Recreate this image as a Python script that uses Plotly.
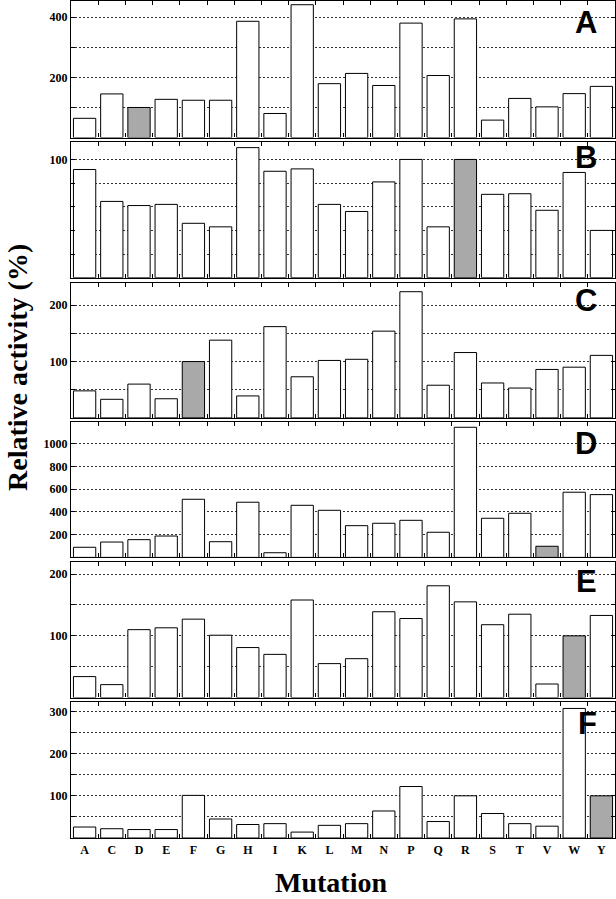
import plotly.graph_objects as go

mutations = ["A", "C", "D", "E", "F", "G", "H", "I", "K", "L",
             "M", "N", "P", "Q", "R", "S", "T", "V", "W", "Y"]

panel_a = [64, 145, 100, 127, 124, 124, 386, 80, 441, 179,
           213, 173, 380, 206, 394, 58, 130, 102, 146, 170]
panel_b = [91.5, 64.5, 61, 62, 46, 43, 110, 90, 92, 62,
           56, 81, 100, 43, 100, 70.5, 71, 57, 89, 40]
panel_c = [48, 33, 60, 34, 100, 138, 39, 162, 73, 102,
           104, 154, 224, 58, 116, 62, 53, 86, 90, 111]
panel_d = [89, 135, 156, 188, 511, 138, 485, 41, 458, 414,
           279, 300, 326, 221, 1144, 344, 388, 98, 573, 552]
panel_e = [34, 21, 110, 113, 127, 101, 81, 70, 158, 55,
           63, 139, 128, 181, 155, 118, 135, 22, 100, 133]
panel_f = [26, 22, 20, 20, 101, 45, 32, 34, 14, 30,
           34, 64, 122, 39, 100, 58, 34, 28, 307, 100]

panels = [panel_a, panel_b, panel_c, panel_d, panel_e, panel_f]
reference_residue = ["D", "R", "F", "V", "W", "Y"]
panel_letters = ["A", "B", "C", "D", "E", "F"]
y_max = [455, 115, 240, 1193, 220, 323]
y_tick_values = [
    [100, 200, 300, 400],
    [20, 40, 60, 80, 100],
    [50, 100, 150, 200],
    [200, 400, 600, 800, 1000],
    [50, 100, 150, 200],
    [50, 100, 150, 200, 250, 300],
]
y_tick_labels = [
    ["", "200", "", "400"],
    ["", "", "", "", "100"],
    ["", "100", "", "200"],
    ["200", "400", "600", "800", "1000"],
    ["", "100", "", "200"],
    ["", "100", "", "200", "", "300"],
]

# layout geometry (pixels from top of plot area)
PLOT_H = 838.0
panel_top_px = [0.5, 141.7, 282.7, 421.7, 561.7, 701.7]
panel_bot_px = [137.6, 277.7, 417.9, 557.4, 697.6, 838.0]
letter_center_px = [23, 157, 300, 443, 581, 723]

WHITE = "#ffffff"
GRAY = "#a9a9a9"
serif = "Liberation Serif"

fig = go.Figure()
layout = {}
annotations = []

for i, vals in enumerate(panels):
    n = i + 1
    xa = "x" if n == 1 else f"x{n}"
    ya = "y" if n == 1 else f"y{n}"
    colors = [GRAY if m == reference_residue[i] else WHITE for m in mutations]
    fig.add_trace(go.Bar(
        x=mutations, y=vals, xaxis=xa, yaxis=ya,
        marker=dict(color=colors, line=dict(color="black", width=1)),
        showlegend=False, hoverinfo="x+y",
    ))
    d0 = max(0.0, 1 - panel_bot_px[i] / PLOT_H)
    d1 = min(1.0, 1 - panel_top_px[i] / PLOT_H)
    xkey = "xaxis" if n == 1 else f"xaxis{n}"
    ykey = "yaxis" if n == 1 else f"yaxis{n}"
    layout[xkey] = dict(
        domain=[0, 1], anchor=ya, type="category",
        categoryorder="array", categoryarray=mutations,
        showline=True, linecolor="black", linewidth=1.3, mirror="ticks",
        ticks="inside", ticklen=4, tickcolor="black", tickson="boundaries",
        showgrid=False, zeroline=False,
        showticklabels=(n == 6),
        tickfont=dict(family=serif, size=12, color="black", weight="bold"),
        matches=None if n == 1 else "x",
    )
    layout[ykey] = dict(
        domain=[d0, d1], anchor=xa, range=[0, y_max[i]],
        tickvals=y_tick_values[i], ticktext=y_tick_labels[i],
        showline=True, linecolor="black", linewidth=1.3, mirror="ticks",
        ticks="inside", ticklen=4, tickcolor="black",
        showgrid=True, gridcolor="#333333", griddash="2px,2px", gridwidth=1,
        zeroline=False,
        tickfont=dict(family=serif, size=12, color="black", weight="bold"),
    )
    annotations.append(dict(
        text=panel_letters[i], xref="paper", yref="paper",
        x=(599 - 71) / 544, y=1 - letter_center_px[i] / PLOT_H,
        xanchor="right", yanchor="middle", showarrow=False,
        font=dict(family="Liberation Sans", size=31, color="black", weight="bold"),
    ))

annotations.append(dict(
    text="Relative activity (%)", xref="paper", yref="paper",
    x=(17 - 71) / 544, y=1 - 368 / PLOT_H, textangle=-90,
    xanchor="center", yanchor="middle", showarrow=False,
    font=dict(family=serif, size=28, color="black", weight="bold"),
))
annotations.append(dict(
    text="Mutation", xref="paper", yref="paper",
    x=(330.5 - 71) / 544, y=1 - 882 / PLOT_H,
    xanchor="center", yanchor="middle", showarrow=False,
    font=dict(family=serif, size=28, color="black", weight="bold"),
))

fig.update_layout(
    width=616, height=899,
    margin=dict(l=71, r=1, t=0, b=61),
    paper_bgcolor="white", plot_bgcolor="white",
    bargap=0.18,
    annotations=annotations,
    **layout,
)

fig.write_html("out.html", config={"displayModeBar": False},
               post_script="document.body.style.margin='0';")
